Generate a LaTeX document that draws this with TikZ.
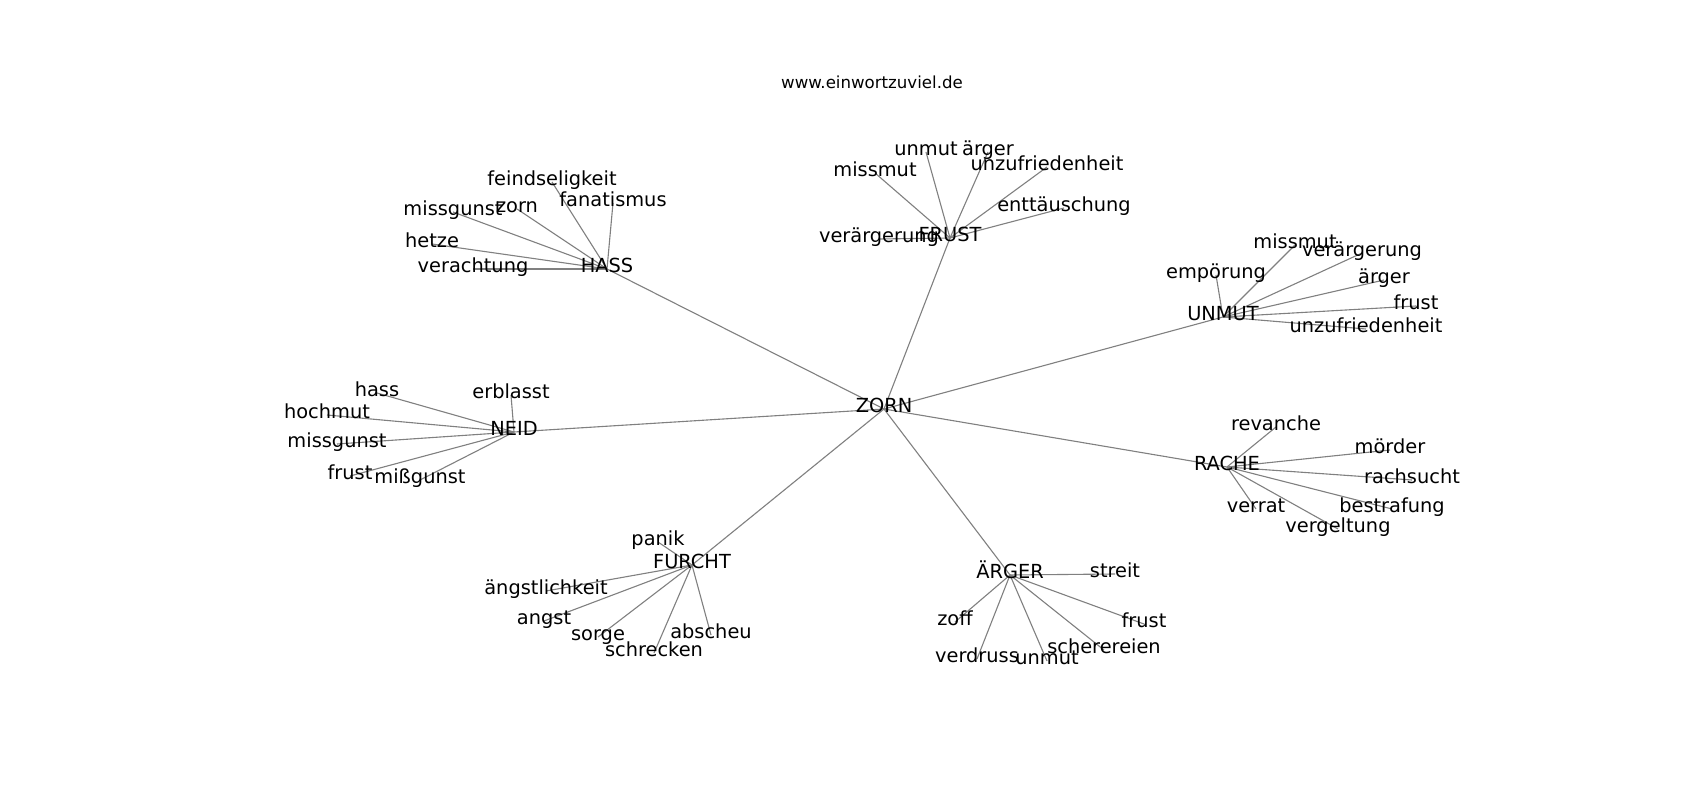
\documentclass[tikz,border=0pt]{standalone}
\usepackage{fontspec}
\setmainfont{DejaVu Sans}
\usetikzlibrary{backgrounds}

\begin{document}
\begin{tikzpicture}[
            x = 0.01in, y = -0.01in, % one unit is one pixel
            every node/.style = {
                font = \fontsize{14}{17}\selectfont,
                inner sep = 0pt,
                text height = 0.76em, % centre like the word lines
                text depth = 0.24em
            },
            every edge/.style = {
                draw = gray,
                line width = 0.8pt
            }
        ]

        \useasboundingbox (0,-3) rectangle (1700,797);

        \node[font=\fontsize{12}{14}\selectfont] (title) at (872,82) {www.einwortzuviel.de};

        % centre and hubs
        \node (Z) at (884,406) {ZORN};
        \node (H) at (607,266) {HASS};
        \node (F) at (950,235) {FRUST};
        \node (U) at (1223,314) {UNMUT};
        \node (N) at (514,429) {NEID};
        \node (R) at (1227,464) {RACHE};
        \node (Fu) at (692,562) {FURCHT};
        \node (A) at (1010,572) {ÄRGER};

        % hass
        \node (H1) at (552,179) {feindseligkeit};
        \node (H2) at (613,200) {fanatismus};
        \node (H3) at (517,206) {zorn};
        \node (H4) at (453,209) {missgunst};
        \node (H5) at (432,241) {hetze};
        \node (H6) at (473,266) {verachtung};

        % frust
        \node (F1) at (926,149) {unmut};
        \node (F2) at (988,149) {ärger};
        \node (F3) at (875,170) {missmut};
        \node (F4) at (1047,164) {unzufriedenheit};
        \node (F5) at (1064,205) {enttäuschung};
        \node (F6) at (879,236) {verärgerung};

        % unmut
        \node (U1) at (1295,242) {missmut};
        \node (U2) at (1362,250) {verärgerung};
        \node (U3) at (1216,272) {empörung};
        \node (U4) at (1384,277) {ärger};
        \node (U5) at (1416,303) {frust};
        \node (U6) at (1366,326) {unzufriedenheit};

        % neid
        \node (N1) at (377,390) {hass};
        \node (N2) at (511,392) {erblasst};
        \node (N3) at (327,412) {hochmut};
        \node (N4) at (337,441) {missgunst};
        \node (N5) at (350,473) {frust};
        \node (N6) at (420,477) {mißgunst};

        % rache
        \node (R1) at (1276,424) {revanche};
        \node (R2) at (1390,447) {mörder};
        \node (R3) at (1412,477) {rachsucht};
        \node (R4) at (1256,506) {verrat};
        \node (R5) at (1392,506) {bestrafung};
        \node (R6) at (1338,526) {vergeltung};

        % furcht
        \node (Fu1) at (658,539) {panik};
        \node (Fu2) at (546,588) {ängstlichkeit};
        \node (Fu3) at (544,618) {angst};
        \node (Fu4) at (598,634) {sorge};
        \node (Fu5) at (711,632) {abscheu};
        \node (Fu6) at (654,650) {schrecken};

        % ärger
        \node (A1) at (1115,571) {streit};
        \node (A2) at (955,619) {zoff};
        \node (A3) at (1144,621) {frust};
        \node (A4) at (977,656) {verdruss};
        \node (A5) at (1047,658) {unmut};
        \node (A6) at (1104,647) {scherereien};

        \begin{scope}[on background layer]
            \path (Z.center) edge (H.center);
            \path (Z.center) edge (F.center);
            \path (Z.center) edge (U.center);
            \path (Z.center) edge (N.center);
            \path (Z.center) edge (R.center);
            \path (Z.center) edge (Fu.center);
            \path (Z.center) edge (A.center);

            \path (H.center) edge (H1.center);
            \path (H.center) edge (H2.center);
            \path (H.center) edge (H3.center);
            \path (H.center) edge (H4.center);
            \path (H.center) edge (H5.center);
            \path (H.center) edge (H6.center);

            \path (F.center) edge (F1.center);
            \path (F.center) edge (F2.center);
            \path (F.center) edge (F3.center);
            \path (F.center) edge (F4.center);
            \path (F.center) edge (F5.center);
            \path (F.center) edge (F6.center);

            \path (U.center) edge (U1.center);
            \path (U.center) edge (U2.center);
            \path (U.center) edge (U3.center);
            \path (U.center) edge (U4.center);
            \path (U.center) edge (U5.center);
            \path (U.center) edge (U6.center);

            \path (N.center) edge (N1.center);
            \path (N.center) edge (N2.center);
            \path (N.center) edge (N3.center);
            \path (N.center) edge (N4.center);
            \path (N.center) edge (N5.center);
            \path (N.center) edge (N6.center);

            \path (R.center) edge (R1.center);
            \path (R.center) edge (R2.center);
            \path (R.center) edge (R3.center);
            \path (R.center) edge (R4.center);
            \path (R.center) edge (R5.center);
            \path (R.center) edge (R6.center);

            \path (Fu.center) edge (Fu1.center);
            \path (Fu.center) edge (Fu2.center);
            \path (Fu.center) edge (Fu3.center);
            \path (Fu.center) edge (Fu4.center);
            \path (Fu.center) edge (Fu5.center);
            \path (Fu.center) edge (Fu6.center);

            \path (A.center) edge (A1.center);
            \path (A.center) edge (A2.center);
            \path (A.center) edge (A3.center);
            \path (A.center) edge (A4.center);
            \path (A.center) edge (A5.center);
            \path (A.center) edge (A6.center);
        \end{scope}

    \end{tikzpicture}
\end{document}
